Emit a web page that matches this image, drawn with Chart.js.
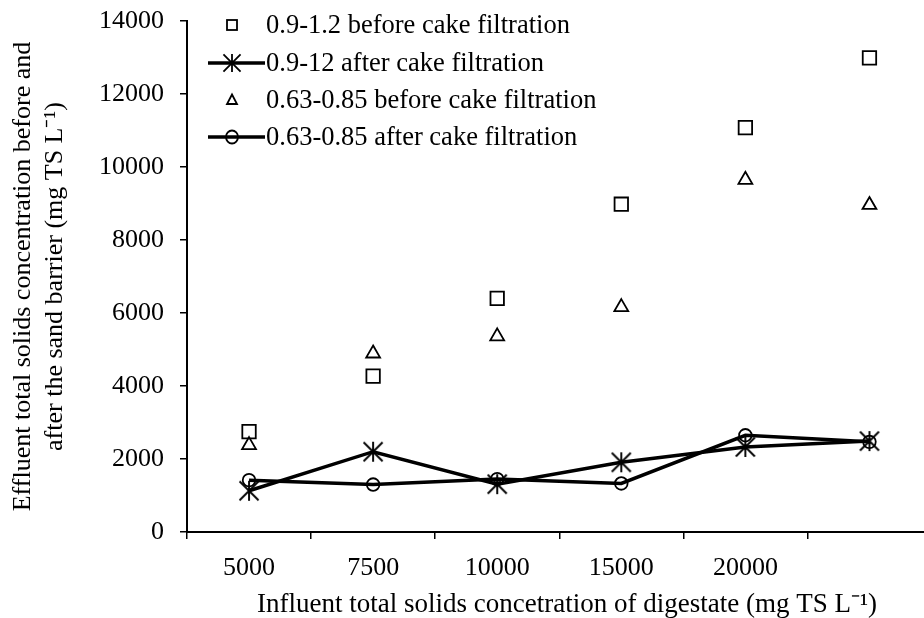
<!DOCTYPE html>
<html>
<head>
<meta charset="utf-8">
<script src="https://cdn.jsdelivr.net/npm/chart.js@4/dist/chart.umd.min.js"></script>
<style>
  html, body { margin: 0; padding: 0; background: #fff; overflow: hidden; }
  #wrap { position: relative; width: 945px; height: 618px; }
  #c { display: block; }
</style>
</head>
<body>
<div id="wrap"><canvas id="c" width="945" height="618" style="width:945px;height:618px"></canvas></div>
<script>
// ---- data ----
const categories = ['5000', '7500', '10000', '15000', '20000', ''];
const before_09_12 = [2750, 4270, 6400, 8980, 11080, 12990];
const after_09_12 = [1130, 2200, 1310, 1910, 2330, 2490];
const before_063_085 = [2380, 4890, 5360, 6160, 9650, 8960];
const after_063_085 = [1420, 1300, 1450, 1330, 2650, 2470];
const seriesNames = [
  '0.9-1.2 before cake filtration',
  '0.9-12 after cake filtration',
  '0.63-0.85 before cake filtration',
  '0.63-0.85 after cake filtration'
];
const yTicks = { min: 0, max: 14000, step: 2000 };
const yTitle = ['Effluent total solids concentration before and', 'after the sand barrier (mg TS L\u207B\u00B9)'];
const xTitle = 'Influent total solids concetration of digestate (mg TS L\u207B\u00B9)';

// ---- styling ----
const FONT = '"Liberation Serif", "Times New Roman", serif';

function makeStar(half, lw) {
  const s = Math.ceil(half * 2 + lw * 2);
  const cv = document.createElement('canvas');
  cv.width = s; cv.height = s;
  const g = cv.getContext('2d');
  const c = s / 2;
  g.strokeStyle = '#000';
  g.lineWidth = lw;
  g.beginPath();
  g.moveTo(c, c - half); g.lineTo(c, c + half);
  g.moveTo(c - half * 0.95, c - half * 0.95); g.lineTo(c + half * 0.95, c + half * 0.95);
  g.moveTo(c - half * 0.95, c + half * 0.95); g.lineTo(c + half * 0.95, c - half * 0.95);
  g.stroke();
  return cv;
}
const starImg = makeStar(10, 1.9);
const starImgSmall = makeStar(9, 1.8);

const legendPlugin = {
  id: 'customLegend',
  afterDraw(chart) {
    const ctx = chart.ctx;
    const rows = [25, 63, 100, 137];
    const mx = 232, lx0 = 208, lx1 = 265, tx = 266;
    ctx.save();
    ctx.strokeStyle = '#000';
    ctx.font = '26.5px ' + FONT;
    ctx.textBaseline = 'middle';
    ctx.textAlign = 'left';
    rows.forEach((y, i) => {
      ctx.fillStyle = '#000';
      ctx.fillText(seriesNames[i], tx, y + 1);
      if (i === 1 || i === 3) {
        ctx.lineWidth = 3.5;
        ctx.beginPath(); ctx.moveTo(lx0, y); ctx.lineTo(lx1, y); ctx.stroke();
      }
      ctx.lineWidth = 1.8;
      if (i === 0) {
        ctx.strokeRect(mx - 5, y - 5, 10, 10);
      } else if (i === 1) {
        ctx.drawImage(starImgSmall, mx - starImgSmall.width / 2, y - starImgSmall.height / 2);
      } else if (i === 2) {
        ctx.beginPath();
        ctx.moveTo(mx, y - 5.5); ctx.lineTo(mx + 5, y + 4); ctx.lineTo(mx - 5, y + 4); ctx.closePath();
        ctx.stroke();
      } else {
        ctx.beginPath(); ctx.ellipse(mx, y, 6, 6.5, 0, 0, Math.PI * 2);
        ctx.stroke();
      }
    });
    // x-axis title, centred as in the reference
    ctx.font = '27px ' + FONT;
    ctx.textAlign = 'center';
    ctx.fillStyle = '#000';
    ctx.fillText(xTitle, 567, 605);
    ctx.restore();
  }
};

const chart = new Chart(document.getElementById('c'), {
  type: 'line',
  data: {
    labels: categories,
    datasets: [
      { label: seriesNames[0], data: before_09_12, showLine: false, pointStyle: 'rect',
        pointRadius: 9.5, borderColor: '#000', backgroundColor: 'rgba(0,0,0,0)', pointBorderWidth: 1.8 },
      { label: seriesNames[1], data: after_09_12, borderColor: '#000', borderWidth: 3.5,
        pointStyle: starImg, pointRadius: 10, backgroundColor: 'rgba(0,0,0,0)', tension: 0 },
      { label: seriesNames[2], data: before_063_085, showLine: false, pointStyle: 'triangle',
        pointRadius: 8, borderColor: '#000', backgroundColor: 'rgba(0,0,0,0)', pointBorderWidth: 1.8 },
      { label: seriesNames[3], data: after_063_085, borderColor: '#000', borderWidth: 3.5,
        pointStyle: 'circle', pointRadius: 6.3, pointBorderWidth: 1.8,
        backgroundColor: 'rgba(0,0,0,0)', pointBackgroundColor: 'rgba(0,0,0,0)', tension: 0 }
    ]
  },
  options: {
    responsive: false,
    maintainAspectRatio: false,
    animation: false,
    devicePixelRatio: 1,
    layout: { padding: { left: 0, right: 1, top: 21, bottom: 0 } },
    plugins: { legend: { display: false }, tooltip: { enabled: false } },
    scales: {
      x: {
        type: 'category',
        offset: true,
        grid: { offset: true, drawOnChartArea: false, drawTicks: true, tickLength: 7, color: '#000', lineWidth: 1.5 },
        border: { display: true, color: '#000', width: 2 },
        ticks: { color: '#000', font: { family: FONT, size: 26 }, padding: 14, maxRotation: 0, autoSkip: false },
        title: { display: false },
        afterFit(scale) { scale.height = 86; scale.paddingLeft = 0; scale.paddingRight = 0; }
      },
      y: {
        min: yTicks.min, max: yTicks.max,
        grid: { drawOnChartArea: false, drawTicks: true, tickLength: 7, color: '#000', lineWidth: 1.5 },
        border: { display: true, color: '#000', width: 2 },
        ticks: { stepSize: yTicks.step, color: '#000', font: { family: FONT, size: 26 }, padding: 16,
                 callback: (v) => String(v) },
        title: { display: true, text: yTitle, color: '#000', font: { family: FONT, size: 26, lineHeight: 1.23 }, padding: { top: 7, bottom: 0 } },
        afterFit(scale) { scale.width = 187; scale.paddingTop = 0; scale.paddingBottom = 0; }
      }
    }
  },
  plugins: [legendPlugin]
});
</script>
</body>
</html>
